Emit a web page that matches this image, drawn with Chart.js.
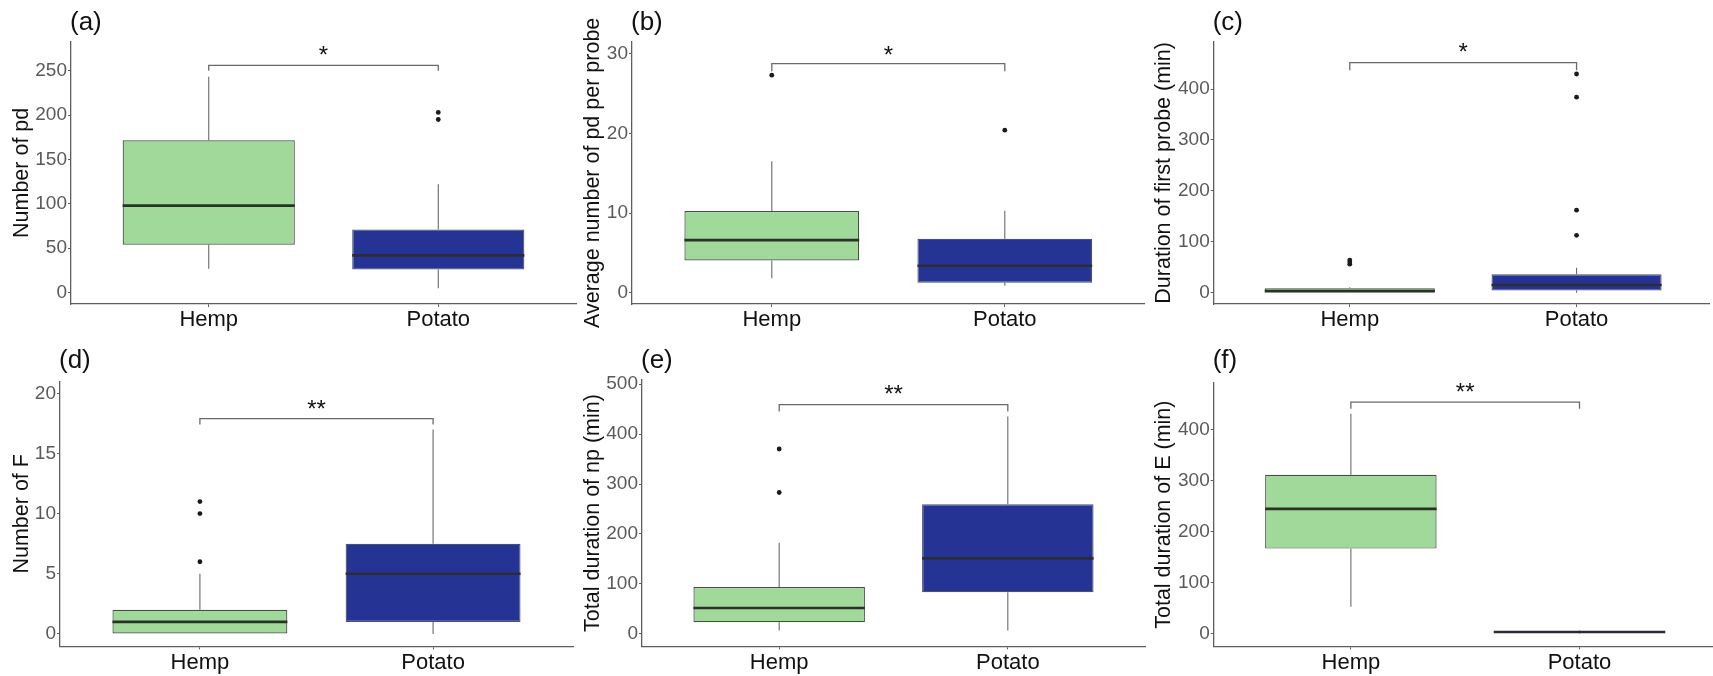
<!DOCTYPE html>
<html>
<head>
<meta charset="utf-8">
<script src="https://cdn.jsdelivr.net/npm/chart.js@4.4.1/dist/chart.umd.min.js"></script>
<style>
  html, body { margin: 0; padding: 0; background: #fff; }
  body { width: 1713px; height: 676px; position: relative; overflow: hidden; }
  canvas { position: absolute; }
</style>
</head>
<body>
<canvas id="pa"></canvas>
<canvas id="pb"></canvas>
<canvas id="pc"></canvas>
<canvas id="pd"></canvas>
<canvas id="pe"></canvas>
<canvas id="pf"></canvas>
<script>
const groups = ['Hemp', 'Potato'];

// box stats per group: [lower whisker, q1, median, q3, upper whisker]
const pdStats = [[27, 54, 98, 171.5, 243], [5, 26, 42, 71, 122]];
const pdOutliers = [[], [203, 195]];
const pdTicks = [0, 50, 100, 150, 200, 250];

const pdProbeStats = [[1.8, 4.05, 6.6, 10.24, 16.5], [0.88, 1.25, 3.38, 6.77, 10.28]];
const pdProbeOutliers = [[27.3], [20.4]];
const pdProbeTicks = [0, 10, 20, 30];

const firstProbeStats = [[0, 0, 3, 8.5, 10.5], [0, 4, 15, 36, 49]];
const firstProbeOutliers = [[56, 60, 64], [429.5, 384, 162, 112.6]];
const firstProbeTicks = [0, 100, 200, 300, 400];

const fStats = [[0, 0, 1, 2, 5], [0, 1, 5, 7.5, 17]];
const fOutliers = [[11, 10, 6], []];
const fTicks = [0, 5, 10, 15, 20];

const npStats = [[6.7, 23.3, 52, 94, 182.7], [6.7, 83.3, 151.3, 259.3, 435]];
const npOutliers = [[370, 283], []];
const npTicks = [0, 100, 200, 300, 400, 500];

const eStats = [[53.5, 167, 244.7, 311.3, 430.7], [1, 2, 4, 6, 7]];
const eOutliers = [[], []];
const eTicks = [0, 100, 200, 300, 400];

// significance marks
const sigMarks = ['*', '*', '*', '**', '**', '**'];

const panels = [
  { id: 'pa', label: '(a)', title: 'Number of pd', stats: pdStats, outliers: pdOutliers, ticks: pdTicks,
    yMin: -12.8, yMax: 282.6, bracket: [250, 256], starY: 274 },
  { id: 'pb', label: '(b)', title: 'Average number of pd per probe', stats: pdProbeStats, outliers: pdProbeOutliers, ticks: pdProbeTicks,
    yMin: -1.42, yMax: 31.5, bracket: [27.8, 28.75], starY: 30.6 },
  { id: 'pc', label: '(c)', title: 'Duration of first probe (min)', stats: firstProbeStats, outliers: firstProbeOutliers, ticks: firstProbeTicks,
    yMin: -22.3, yMax: 493, bracket: [437, 451.7], starY: 483 },
  { id: 'pd', label: '(d)', title: 'Number of F', stats: fStats, outliers: fOutliers, ticks: fTicks,
    yMin: -1.03, yMax: 21, bracket: [17.4, 17.9], starY: 19.2 },
  { id: 'pe', label: '(e)', title: 'Total duration of np (min)', stats: npStats, outliers: npOutliers, ticks: npTicks,
    yMin: -24.7, yMax: 508.7, bracket: [445, 458.7], starY: 490.7 },
  { id: 'pf', label: '(f)', title: 'Total duration of E (min)', stats: eStats, outliers: eOutliers, ticks: eTicks,
    yMin: -24.1, yMax: 491, bracket: [440.5, 453.5], starY: 484.8 }
];

// canvas placement and plot area edges, page pixels
const layout = [
  { x0: 0,    y0: 0,   w: 580, h: 338, L: 71,     T: 41.7,  R: 576,    B: 304,   xMax: 2.6 },
  { x0: 571,  y0: 0,   w: 578, h: 338, L: 632,    T: 41.7,  R: 1144.6, B: 304,   xMax: 2.6 },
  { x0: 1142, y0: 0,   w: 571, h: 338, L: 1213.7, T: 41.7,  R: 1713,   B: 304,   xMax: 2.584 },
  { x0: 0,    y0: 338, w: 577, h: 338, L: 60,     T: 381.3, R: 573,    B: 646.3, xMax: 2.6 },
  { x0: 571,  y0: 338, w: 578, h: 338, L: 642,    T: 379.7, R: 1145,   B: 646.3, xMax: 2.6 },
  { x0: 1142, y0: 338, w: 571, h: 338, L: 1213.7, T: 383,   R: 1713,   B: 646.3, xMax: 2.584 }
];

const FONT = '"Liberation Sans", Arial, Helvetica, sans-serif';
Chart.defaults.font.family = FONT;

const fills = ['#a1d99b', '#253494'];
const edges = ['#454f44', '#4a4f78'];
const medianColors = ['#283326', '#2c2c34'];
const whiskerColor = '#6a6a6a';
const axisColor = '#5e5e5e';

/* panel letter and stars */
const decor = {
  id: 'decor',
  afterDatasetsDraw(chart, args, opts) {
    const ctx = chart.ctx;
    const x = chart.scales.x, y = chart.scales.y;
    ctx.save();
    ctx.fillStyle = '#111';
    ctx.textAlign = 'center';
    ctx.textBaseline = 'alphabetic';
    ctx.font = '24px ' + FONT;
    ctx.fillText(opts.sig, x.getPixelForValue(1.5), y.getPixelForValue(opts.starY) + 24 * 0.57);
    ctx.textAlign = 'left';
    ctx.textBaseline = 'middle';
    ctx.font = '26px ' + FONT;
    ctx.fillText(opts.label, chart.chartArea.left - 1, 23);
    ctx.restore();
  }
};

function seg(x1, y1, x2, y2, color, width) {
  return { type: 'line', data: [{ x: x1, y: y1 }, { x: x2, y: y2 }], borderColor: color,
    borderWidth: width, pointRadius: 0, borderCapStyle: 'butt', fill: false };
}

function makePanel(p, lay, k) {
  const cv = document.getElementById(p.id);
  cv.width = lay.w;
  cv.height = lay.h;
  cv.style.left = lay.x0 + 'px';
  cv.style.top = lay.y0 + 'px';

  const half = 0.375;
  const ds = [];
  // medians first so they sit on top
  p.stats.forEach(function (s, i) {
    ds.push(seg(i + 1 - half, s[2], i + 1 + half, s[2], medianColors[i], 2.6));
  });
  ds.push({
    type: 'bar',
    data: p.stats.map(function (s, i) { return { x: i + 1, y: [s[1], s[3]] }; }),
    backgroundColor: fills, borderColor: edges, borderWidth: 1.2, borderSkipped: false,
    barPercentage: 0.75, categoryPercentage: 1, grouped: false
  });
  p.stats.forEach(function (s, i) {
    ds.push(seg(i + 1, s[3], i + 1, s[4], whiskerColor, 1.1));
    ds.push(seg(i + 1, s[0], i + 1, s[1], whiskerColor, 1.1));
  });
  const pts = [];
  p.outliers.forEach(function (list, i) {
    list.forEach(function (v) { pts.push({ x: i + 1, y: v }); });
  });
  ds.push({ type: 'scatter', data: pts, pointRadius: 2.4, pointBackgroundColor: '#1a1a1a', pointBorderWidth: 0 });
  ds.push({
    type: 'line',
    data: [{ x: 1, y: p.bracket[0] }, { x: 1, y: p.bracket[1] }, { x: 2, y: p.bracket[1] }, { x: 2, y: p.bracket[0] }],
    borderColor: '#6a6a6a', borderWidth: 1.3, pointRadius: 0, fill: false
  });

  new Chart(cv, {
    type: 'scatter',
    data: { datasets: ds },
    options: {
      responsive: false,
      maintainAspectRatio: false,
      animation: false,
      events: [],
      layout: { padding: { left: 0, top: lay.T - lay.y0, right: lay.x0 + lay.w - lay.R, bottom: 0 } },
      plugins: {
        legend: { display: false },
        tooltip: { enabled: false },
        decor: { sig: sigMarks[k], starY: p.starY, label: p.label }
      },
      scales: {
        x: {
          type: 'linear', min: 0.4, max: lay.xMax, offset: false,
          afterBuildTicks: function (sc) { sc.ticks = [{ value: 1 }, { value: 2 }]; },
          afterFit: function (sc) { sc.height = lay.y0 + lay.h - lay.B; },
          ticks: { callback: function (v) { return groups[Math.round(v) - 1] || ''; },
            font: { size: 22 }, color: '#111', padding: 0, maxRotation: 0 },
          grid: { drawOnChartArea: false, tickLength: 3, color: axisColor, offset: false },
          border: { display: true, color: axisColor, width: 1.3 }
        },
        y: {
          type: 'linear', min: p.yMin, max: p.yMax,
          afterBuildTicks: function (sc) { sc.ticks = p.ticks.map(function (v) { return { value: v }; }); },
          afterFit: function (sc) { sc.width = lay.L - lay.x0; },
          ticks: { font: { size: 19 }, color: '#5a5a5a', padding: 1 },
          grid: { drawOnChartArea: false, tickLength: 3, color: axisColor },
          border: { display: true, color: axisColor, width: 1.3 },
          title: { display: true, text: p.title, font: { size: 21.5 }, color: '#111', padding: { top: 9, bottom: 0 } }
        }
      }
    },
    plugins: [decor]
  });
}

panels.forEach(function (p, k) { makePanel(p, layout[k], k); });
</script>
</body>
</html>
